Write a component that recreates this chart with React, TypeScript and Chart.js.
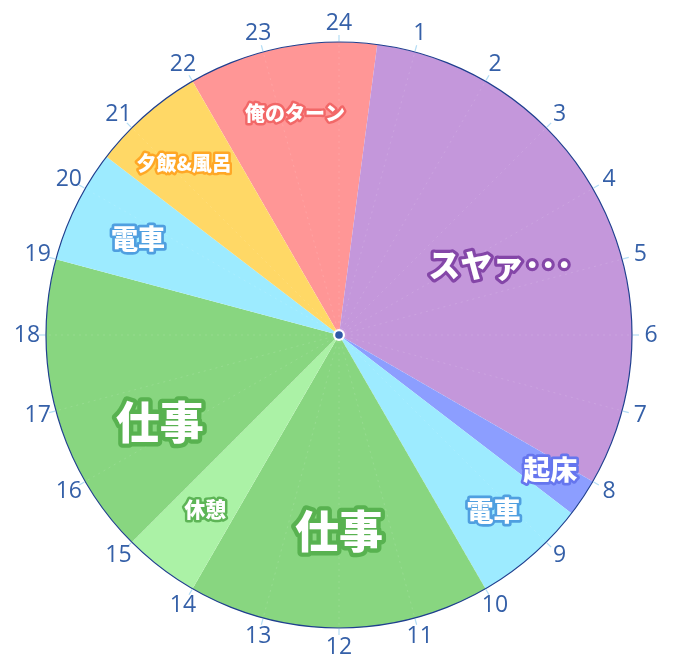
import React, { useEffect, useRef } from "react";
import { Chart, registerables } from "chart.js";

Chart.register(...registerables);

// Activities starting at 22:00, going clockwise
const ACTIVITIES = ["俺のターン", "スヤァ･･･", "起床", "電車", "仕事", "休憩", "仕事", "電車", "夕飯&風呂"];
const DURATIONS = [2.5, 7.5, 0.5, 1.5, 4, 1, 4, 1.5, 1.5];
const START_HOUR = 22;
const HOUR_LABELS = ["24", "1", "2", "3", "4", "5", "6", "7", "8", "9", "10", "11", "12", "13", "14", "15", "16", "17", "18", "19", "20", "21", "22", "23"];

const FILL_COLORS = ["#FF9696", "#C497DB", "#8C9EFF", "#9DEBFF", "#88D680", "#ABF2A6", "#88D680", "#9DEBFF", "#FFD866"];
const STROKE_COLORS = ["#F26868", "#8446A8", "#6676EE", "#4F9FE0", "#58B250", "#5DB556", "#58B250", "#4F9FE0", "#FFA726"];
const LABEL_SIZES = [20, 32, 27, 27, 44, 21, 44, 27, 20];
const LABEL_RADIUS = [0.77, 0.6, 0.855, 0.8, 0.67, 0.75, 0.68, 0.76, 0.79];
const LABEL_ANGLE_SHIFT = [0, 0.18, -0.08, 0, 0, 0, -0.73, -0.05, -0.05];

const clockPlugin = {
  id: "clockDecor",
  afterDatasetsDraw(chart: any) {
    const meta = chart.getDatasetMeta(0);
    const arcs = meta.data;
    if (!arcs.length) return;
    const cx = arcs[0].x;
    const cy = arcs[0].y;
    const r = arcs[0].outerRadius;
    const ctx = chart.ctx;
    ctx.save();

    // faint radial guides
    ctx.setLineDash([2, 4]);
    ctx.strokeStyle = "rgba(255,255,255,0.12)";
    ctx.lineWidth = 1;
    for (let i = 0; i < 24; i++) {
      const a = -Math.PI / 2 + (i / 24) * Math.PI * 2;
      ctx.beginPath();
      ctx.moveTo(cx, cy);
      ctx.lineTo(cx + Math.cos(a) * r, cy + Math.sin(a) * r);
      ctx.stroke();
    }
    ctx.setLineDash([]);

    // outer ring
    ctx.beginPath();
    ctx.arc(cx, cy, r, 0, Math.PI * 2);
    ctx.strokeStyle = "#1F3F8F";
    ctx.lineWidth = 1.2;
    ctx.stroke();

    // ticks and hour labels
    ctx.font = "23px 'Open Sans', sans-serif";
    ctx.fillStyle = "#3560A8";
    ctx.textAlign = "center";
    ctx.textBaseline = "middle";
    for (let i = 0; i < 24; i++) {
      const a = -Math.PI / 2 + (i / 24) * Math.PI * 2;
      ctx.beginPath();
      ctx.moveTo(cx + Math.cos(a) * (r + 1), cy + Math.sin(a) * (r + 1));
      ctx.lineTo(cx + Math.cos(a) * (r + 7), cy + Math.sin(a) * (r + 7));
      ctx.strokeStyle = "#B4DDF4";
      ctx.lineWidth = 1.2;
      ctx.stroke();
      const lr = r + 19;
      ctx.fillText(HOUR_LABELS[i], cx + Math.cos(a) * lr, cy + Math.sin(a) * lr);
    }

    // slice labels
    arcs.forEach((arc: any, i: number) => {
      const mid = (arc.startAngle + arc.endAngle) / 2 + (LABEL_ANGLE_SHIFT[i] / 24) * Math.PI * 2;
      const lr = r * LABEL_RADIUS[i];
      const x = cx + Math.cos(mid) * lr;
      const y = cy + Math.sin(mid) * lr;
      const size = LABEL_SIZES[i];
      ctx.font = `900 ${size}px 'Noto Sans CJK JP', sans-serif`;
      ctx.lineJoin = "round";
      ctx.lineWidth = Math.max(5, size * 0.2);
      ctx.strokeStyle = STROKE_COLORS[i];
      ctx.strokeText(ACTIVITIES[i], x, y);
      ctx.fillStyle = "#FFFFFF";
      ctx.fillText(ACTIVITIES[i], x, y);
    });

    // center dot
    ctx.beginPath();
    ctx.arc(cx, cy, 6, 0, Math.PI * 2);
    ctx.fillStyle = "#FFFFFF";
    ctx.fill();
    ctx.beginPath();
    ctx.arc(cx, cy, 3.8, 0, Math.PI * 2);
    ctx.fillStyle = "#2F5AA8";
    ctx.fill();

    ctx.restore();
  },
};

export default function App() {
  const ref = useRef<HTMLCanvasElement | null>(null);
  useEffect(() => {
    if (!ref.current) return;
    const chart = new Chart(ref.current, {
      type: "pie",
      data: {
        labels: ACTIVITIES,
        datasets: [
          {
            data: DURATIONS,
            backgroundColor: FILL_COLORS,
            borderWidth: 0,
          },
        ],
      },
      options: {
        responsive: false,
        animation: false,
        rotation: (START_HOUR / 24) * 360,
        layout: { padding: { left: 46, right: 48, top: 42, bottom: 40 } },
        plugins: { legend: { display: false }, tooltip: { enabled: false } },
      },
      plugins: [clockPlugin],
    });
    return () => chart.destroy();
  }, []);
  return (
    <div style={{ position: "absolute", left: 0, top: 0, width: 680, height: 668, background: "#fff" }}>
      <canvas ref={ref} width={680} height={668} />
    </div>
  );
}
